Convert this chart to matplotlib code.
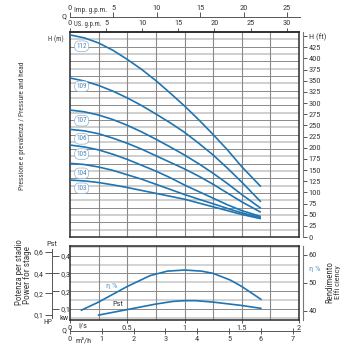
import matplotlib
matplotlib.use('Agg')
import matplotlib.pyplot as plt
from matplotlib import font_manager as fm
import numpy as np

# ---------------- data ----------------
q_ls = [0, 0.125, 0.25, 0.375, 0.5, 0.625, 0.75, 0.875, 1.0, 1.125, 1.25, 1.375, 1.5, 1.667]
h_112 = [138.0, 136.0, 132.5, 127.5, 121.3, 114.5, 106.8, 98.3, 89.5, 80.0, 70.0, 59.5, 48.0, 34.4]
h_109 = [108.6, 106.5, 103.5, 99.6, 95.0, 89.8, 84.0, 78.0, 71.5, 64.0, 56.0, 47.0, 37.5, 24.0]
h_107 = [86.7, 85.5, 83.3, 80.2, 76.3, 71.8, 66.8, 61.5, 56.0, 50.0, 43.5, 36.5, 29.0, 19.6]
h_106 = [73.5, 72.5, 70.5, 67.5, 64.0, 60.0, 55.5, 51.0, 46.5, 41.5, 36.0, 30.0, 24.0, 16.9]
h_105 = [62.8, 61.5, 59.5, 56.5, 53.0, 49.0, 45.0, 40.5, 35.5, 31.0, 26.5, 22.0, 18.0, 14.0]
h_104 = [50.3, 49.5, 47.8, 45.5, 42.5, 39.5, 36.0, 32.5, 29.0, 25.8, 22.7, 19.5, 16.5, 13.2]
h_103 = [38.9, 38.3, 37.2, 35.6, 33.8, 31.8, 29.8, 27.8, 25.8, 23.2, 20.6, 18.0, 15.4, 12.5]
curve_names = ['112', '109', '107', '106', '105', '104', '103']
curve_label_q = 0.102
curve_label_h = [130.3, 102.9, 79.4, 67.0, 56.6, 43.5, 33.3]

q_eta = [0.1, 0.25, 0.5, 0.7, 0.85, 1.0, 1.15, 1.25, 1.4, 1.5, 1.667]
eta_pct = [40.2, 43.1, 48.7, 52.6, 54.2, 54.6, 54.2, 53.4, 51.0, 48.7, 44.1]
q_pst = [0.25, 0.5, 0.75, 0.9, 1.0, 1.1, 1.25, 1.5, 1.667]
pst_kw = [0.066, 0.097, 0.128, 0.143, 0.147, 0.147, 0.139, 0.120, 0.104]

h_m_ticks = list(range(0, 141, 10))
h_ft_ticks = list(range(0, 426, 25))
us_gpm_ticks = [0, 5, 10, 15, 20, 25, 30]
imp_gpm_ticks = [0, 5, 10, 15, 20, 25]
ls_ticks = [0, 0.5, 1, 1.5, 2]
ls_labels = ['0', '0.5', '1', '1.5', '2']
m3h_ticks = [0, 1, 2, 3, 4, 5, 6, 7]
kw_ticks = [0.1, 0.2, 0.3, 0.4]
kw_labels = ['0,1', '0,2', '0,3', '0,4']
hp_labels = ['0,1', '0,2', '0,4', '0,6']
hp_pos_kw = [0.066, 0.189, 0.301, 0.423]
eta_ticks = [40, 50, 60]

# unit conversions (per l/s, per m)
US_GPM_PER_LS = 15.850
IMP_GPM_PER_LS = 13.198
M3H_PER_LS = 3.6
FT_PER_M = 3.28084

# ---------------- style ----------------
fonts = fm.fontManager.ttflist
names = {f.name for f in fonts}
STRETCH = 'normal'
if 'Liberation Sans Narrow' in names:
    FONT, FS = 'Liberation Sans Narrow', 6.5
elif 'Roboto Condensed' in names:
    FONT, FS = 'Roboto Condensed', 6.0
elif any(f.name == 'DejaVu Sans' and f.stretch == 'condensed' for f in fonts):
    FONT, FS, STRETCH = 'DejaVu Sans', 5.8, 'condensed'
elif any(f.name == 'Roboto' and f.stretch == 'condensed' for f in fonts):
    FONT, FS, STRETCH = 'Roboto', 6.0, 'condensed'
else:
    FONT, FS = 'DejaVu Sans', 5.4
plt.rcParams['font.family'] = [FONT, 'DejaVu Sans']
plt.rcParams['font.stretch'] = STRETCH
plt.rcParams['font.size'] = FS

BLUE = '#1f74b1'
TXT = '#3a3a3a'
SPINE = '#2a2a2a'
GD = '#8a8a8a'
GL = '#cccccc'
W = H = 350.0

fig = plt.figure(figsize=(3.5, 3.5), dpi=100)
fig.patch.set_facecolor('white')


def rect(x0, y0, x1, y1):
    return [x0 / W, 1 - y1 / H, (x1 - x0) / W, (y1 - y0) / H]


def ftext(x, y, s, **kw):
    kw.setdefault('color', TXT)
    kw.setdefault('fontsize', FS)
    return fig.text(x / W, 1 - y / H, s, **kw)


def style_spines(a, color=SPINE, lw=1.1):
    for s in a.spines.values():
        s.set_color(color)
        s.set_linewidth(lw)

# ---------------- main panel ----------------
ax = fig.add_axes(rect(70, 32, 299, 237))
ax.set_xlim(0, 2)
ax.set_ylim(0, 140)
for hh in np.arange(5, 140, 5):
    if int(hh) % 10 == 0:
        ax.axhline(hh, color=GD, lw=0.7, zorder=1)
    else:
        ax.axhline(hh, color=GL, lw=1.3, zorder=1)
for qq in np.arange(0.25, 2.0, 0.25):
    ax.axvline(qq, color=GD, lw=0.8, zorder=1)

for hs in [h_112, h_109, h_107, h_106, h_105, h_104, h_103]:
    ax.plot(q_ls, hs, color=BLUE, lw=1.2, zorder=3, solid_capstyle='butt')
for name, hl in zip(curve_names, curve_label_h):
    ax.text(curve_label_q, hl, name, fontsize=FS * 0.85, color='#4f84b5',
            ha='center', va='center', zorder=4,
            bbox=dict(boxstyle='round,pad=0.25,rounding_size=0.7', fc='white',
                      ec='#8ab3d6', lw=0.5))

ax.set_xticks([])
ax.set_yticks(h_m_ticks)
ax.tick_params(axis='y', direction='out', length=4, width=0.6, pad=1,
               labelsize=FS, colors=TXT)
style_spines(ax)
ftext(55.5, 39.5, 'H (m)', ha='center', va='center', fontsize=FS * 0.85)

# right H (ft)
axf = ax.twinx()
axf.set_ylim(0, 140 * FT_PER_M)
axf.set_yticks(h_ft_ticks + [450])
axf.set_yticklabels([str(v) for v in h_ft_ticks] + ['H (ft)'])
axf.tick_params(axis='y', direction='out', length=3, width=0.6, pad=1,
                labelsize=FS, colors=TXT)
for s in ['top', 'left', 'bottom']:
    axf.spines[s].set_visible(False)
axf.spines['right'].set_position(('outward', 3))
axf.spines['right'].set_color('#777777')
axf.spines['right'].set_linewidth(0.8)

# top US gpm
axu = ax.twiny()
axu.set_xlim(0, 2 * US_GPM_PER_LS)
axu.set_xticks(us_gpm_ticks)
axu.set_xticklabels([str(v) for v in us_gpm_ticks])
axu.tick_params(axis='x', direction='out', length=3, width=0.6, pad=1,
                labelsize=FS, colors=TXT)
for s in ['bottom', 'left', 'right']:
    axu.spines[s].set_visible(False)
axu.spines['top'].set_color(SPINE)
axu.spines['top'].set_linewidth(1.1)
axu.set_yticks([])
t_us = ftext(74.5, 25, 'US. g.p.m.', ha='left', va='center')

# top Imp gpm
axi = fig.add_axes(rect(70, 17, 300, 18))
axi.patch.set_alpha(0)
axi.set_xlim(0, 2.0 * IMP_GPM_PER_LS * (230 / 229))
axi.set_ylim(0, 1)
axi.xaxis.set_ticks_position('top')
axi.set_xticks(imp_gpm_ticks)
axi.set_xticklabels([str(v) for v in imp_gpm_ticks])
axi.set_yticks([])
axi.tick_params(axis='x', direction='out', length=3.5, width=0.6, pad=1,
                labelsize=FS, colors=TXT)
for s in ['bottom', 'left', 'right']:
    axi.spines[s].set_visible(False)
axi.spines['top'].set_color('#555555')
axi.spines['top'].set_linewidth(0.7)
t_imp = ftext(74.5, 10, 'Imp. g.p.m.', ha='left', va='center')
ftext(64, 16, 'Q', ha='center', va='center')

# ---------------- lower panel ----------------
KW_TOP, KW_BOT = 0.4547, 0.0383
ETA_TOP, ETA_BOT = 63.23, 36.66
axl = fig.add_axes(rect(70, 246, 299, 320))
axl.set_xlim(0, 2)
axl.set_ylim(KW_BOT, KW_TOP)
for j, kk in enumerate(np.arange(0.05, 0.451, 0.05)):
    if j % 2 == 1:
        axl.axhline(kk, color=GD, lw=0.7, zorder=1)
    else:
        axl.axhline(kk, color=GL, lw=1.2, zorder=1)
for qq in np.arange(0.25, 2.0, 0.25):
    axl.axvline(qq, color=GD, lw=0.8, zorder=1)
axl.plot(q_pst, pst_kw, color=BLUE, lw=1.2, zorder=3)
axl.set_xticks(ls_ticks)
axl.set_xticklabels(ls_labels)
axl.set_yticks([])
axl.tick_params(axis='x', direction='out', length=2.5, width=0.6, pad=1,
                labelsize=FS, colors=TXT)
style_spines(axl)
axl.text(0.415, 0.131, 'Pst', fontsize=FS, color=TXT, ha='center', va='center')
axl.text(0.367, 0.229, 'η %', fontsize=FS, color='#5b9bd0', ha='center', va='center')
ftext(78, 325.5, 'l/s', ha='left', va='center')

axe = axl.twinx()
axe.set_ylim(ETA_BOT, ETA_TOP)
axe.plot(q_eta, eta_pct, color=BLUE, lw=1.2, zorder=3)
axe.set_yticks(eta_ticks)
axe.set_yticklabels([str(v) for v in eta_ticks])
axe.tick_params(axis='y', direction='out', length=3, width=0.6, pad=1,
                labelsize=FS, colors=TXT)
for s in ['top', 'left', 'bottom']:
    axe.spines[s].set_visible(False)
axe.spines['right'].set_position(('outward', 3))
axe.spines['right'].set_color('#777777')
axe.spines['right'].set_linewidth(0.8)
ftext(309, 269, 'η %', ha='left', va='center', color='#5b9bd0')
t_r1 = ftext(330, 282, 'Rendimento', rotation=90, ha='center', va='center')
t_r2 = ftext(338, 282, 'Effi ciency', rotation=90, ha='center', va='center')

# left kW / HP scale
axk = fig.add_axes(rect(42, 246, 52, 320))
axk.patch.set_alpha(0)
axk.set_ylim(KW_BOT, KW_TOP)
axk.set_xticks([])
axk.yaxis.set_ticks_position('right')
axk.set_yticks(kw_ticks)
axk.set_yticklabels(kw_labels)
axk.tick_params(axis='y', direction='out', length=5, width=0.6, pad=1,
                labelsize=FS, colors=TXT)
for s in ['top', 'left', 'bottom']:
    axk.spines[s].set_visible(False)
axk.spines['right'].set_color('#555555')
axk.spines['right'].set_linewidth(0.7)
axk.spines['right'].set_bounds(0.05, 0.44)

axh = fig.add_axes(rect(52, 246, 62, 320))
axh.patch.set_alpha(0)
axh.set_ylim(KW_BOT, KW_TOP)
axh.set_xticks([])
axh.set_yticks(hp_pos_kw)
axh.set_yticklabels(hp_labels)
axh.tick_params(axis='y', direction='out', length=5, width=0.6, pad=1,
                labelsize=FS, colors=TXT)
for s in ['top', 'right', 'bottom', 'left']:
    axh.spines[s].set_visible(False)
ftext(52, 243.5, 'Pst', ha='center', va='center')
ftext(59, 317.5, 'kw', ha='left', va='center')
ftext(48, 322, 'HP', ha='center', va='center', fontsize=FS * 0.9)

# bottom m3/h axis
axm = fig.add_axes(rect(70, 330, 300, 331))
axm.patch.set_alpha(0)
axm.set_xlim(0, 2.0 * M3H_PER_LS * (230 / 229))
axm.set_ylim(0, 1)
axm.set_xticks(m3h_ticks)
axm.set_xticklabels([str(v) for v in m3h_ticks])
axm.set_yticks([])
axm.tick_params(axis='x', direction='inout', length=5, width=0.6, pad=1,
                labelsize=FS, colors=TXT)
for s in ['top', 'left', 'right']:
    axm.spines[s].set_visible(False)
axm.spines['bottom'].set_color('#555555')
axm.spines['bottom'].set_linewidth(0.7)
ftext(75, 340, 'm³/h', ha='left', va='center')
ftext(64, 330, 'Q', ha='center', va='center')

# rotated side labels
t_main = ftext(22.5, 126, 'Pressione e prevalenza / Pressure and head', rotation=90,
               ha='center', va='center')
t_p1 = ftext(20, 272, 'Potenza per stadio', rotation=90, ha='center', va='center')
t_p2 = ftext(28, 275, 'Power for stage', rotation=90, ha='center', va='center')


def fit(t, target, horizontal=False):
    fig.canvas.draw()
    bb = t.get_window_extent(fig.canvas.get_renderer())
    size = bb.width if horizontal else bb.height
    t.set_fontsize(t.get_fontsize() * target / max(size, 1))


fit(t_main, 128)
fit(t_p1, 66)
fit(t_p2, 58)
fit(t_r1, 42)
fit(t_r2, 34)
fit(t_us, 28, horizontal=True)
fit(t_imp, 33, horizontal=True)

fig.savefig('out.png', dpi=100)
